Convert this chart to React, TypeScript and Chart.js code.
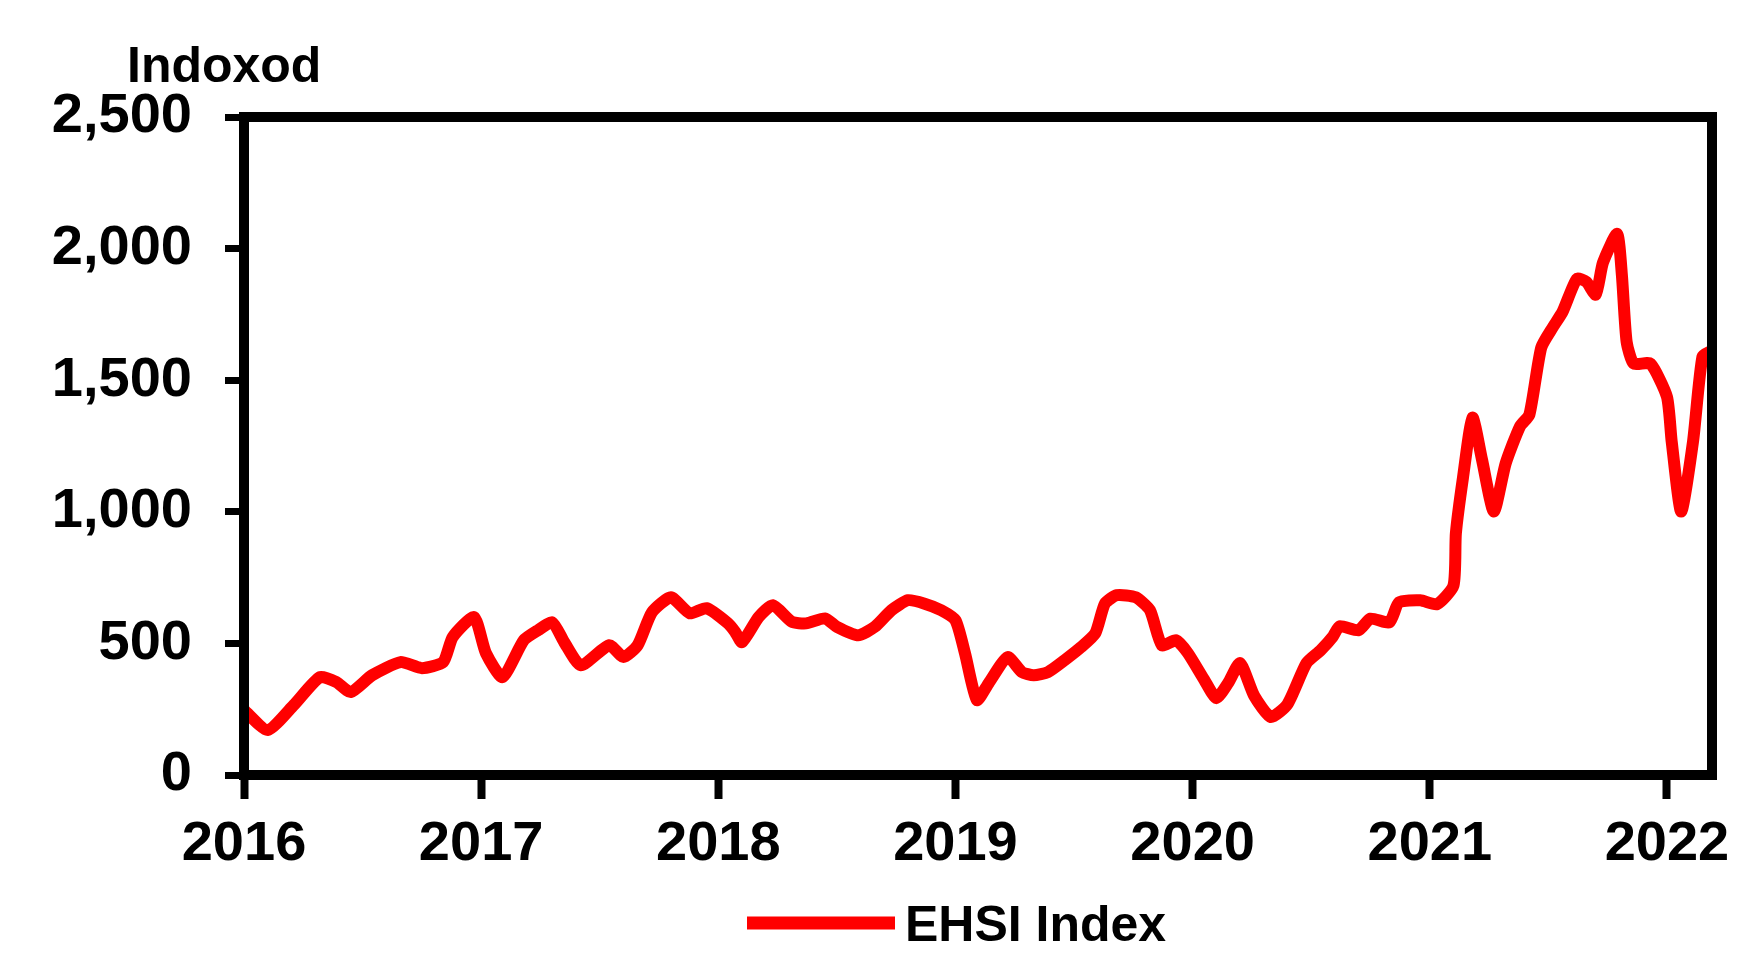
import React, { useEffect, useRef } from "react";
import { Chart, registerables } from "chart.js";

Chart.register(...registerables);

// Decimal-year position of each observation
const dateYears = [
  2016.0, 2016.1, 2016.21, 2016.32, 2016.39, 2016.45, 2016.54, 2016.66, 2016.75, 2016.84,
  2016.88, 2016.97, 2017.02, 2017.09, 2017.18, 2017.24, 2017.3, 2017.35, 2017.42, 2017.54,
  2017.6, 2017.66, 2017.72, 2017.8, 2017.88, 2017.95, 2018.04, 2018.07, 2018.1, 2018.17,
  2018.23, 2018.31, 2018.37, 2018.45, 2018.5, 2018.59, 2018.66, 2018.73, 2018.8, 2018.87,
  2018.94, 2019.0, 2019.04, 2019.09, 2019.14, 2019.22, 2019.28, 2019.33, 2019.39, 2019.46,
  2019.53, 2019.59, 2019.63, 2019.68, 2019.76, 2019.82, 2019.87, 2019.93, 2019.98, 2020.05,
  2020.1, 2020.15, 2020.2, 2020.26, 2020.33, 2020.4, 2020.48, 2020.54, 2020.59, 2020.62,
  2020.7, 2020.75, 2020.83, 2020.87, 2020.96, 2021.03, 2021.1, 2021.11, 2021.14, 2021.18,
  2021.22, 2021.27, 2021.32, 2021.38, 2021.42, 2021.47, 2021.52, 2021.56, 2021.62, 2021.66,
  2021.7, 2021.73, 2021.79, 2021.81, 2021.83, 2021.86, 2021.93, 2022.0, 2022.02, 2022.06,
  2022.11, 2022.15, 2022.19,
];

// EHSI Index values
const ehsiValues = [
  247, 171, 266, 372, 353, 315, 379, 429, 406, 429,
  524, 600, 463, 372, 512, 550, 580, 505, 417, 493,
  448, 493, 618, 675, 614, 634, 577, 545, 505, 600,
  645, 582, 576, 595, 563, 531, 563, 626, 664, 651,
  626, 588, 463, 285, 349, 448, 391, 379, 391, 436,
  486, 539, 651, 683, 675, 626, 493, 512, 463, 360,
  292, 350, 425, 300, 220, 269, 425, 474, 524, 565,
  550, 594, 580, 656, 664, 649, 720, 918, 1130, 1358,
  1199, 1001, 1184, 1324, 1369, 1624, 1703, 1760, 1885, 1874,
  1825, 1946, 2056, 1900, 1646, 1563, 1563, 1437, 1267, 1001,
  1267, 1590, 1612,
];

const seriesLabel = "EHSI Index";
const yAxisTitle = "Indoxod";
const yTicks = [0, 500, 1000, 1500, 2000, 2500];
const xTickYears = [2016, 2017, 2018, 2019, 2020, 2021, 2022];
const xMin = 2016;
const xMax = 2022.19;

const FONT_FAMILY = "'Liberation Sans', Arial, sans-serif";
const LINE_RED = "#ff0000";

const framePlugin = {
  id: "frameAndText",
  afterDatasetsDraw(chart: any) {
    const { ctx, chartArea } = chart;
    ctx.save();
    ctx.strokeStyle = "#000";
    ctx.lineWidth = 10;
    ctx.lineJoin = "miter";
    ctx.strokeRect(
      chartArea.left,
      chartArea.top,
      chartArea.right - chartArea.left,
      chartArea.bottom - chartArea.top
    );
    ctx.restore();
  },
  afterDraw(chart: any) {
    const { ctx } = chart;
    ctx.save();
    ctx.fillStyle = "#000";
    ctx.font = `bold 50px ${FONT_FAMILY}`;
    ctx.textAlign = "left";
    ctx.textBaseline = "alphabetic";
    ctx.fillText(yAxisTitle, 127, 82);

    // legend
    ctx.strokeStyle = LINE_RED;
    ctx.lineWidth = 13;
    ctx.lineCap = "butt";
    ctx.beginPath();
    ctx.moveTo(747, 923);
    ctx.lineTo(895, 923);
    ctx.stroke();
    ctx.fillStyle = "#000";
    ctx.fillText(chart.data.datasets[0].label, 905, 941);
    ctx.restore();
  },
};

export default function App() {
  const canvasRef = useRef<HTMLCanvasElement | null>(null);

  useEffect(() => {
    const canvas = canvasRef.current;
    if (!canvas) return;
    const points = dateYears.map((x, i) => ({ x, y: ehsiValues[i] }));
    const chart = new Chart(canvas, {
      type: "line",
      data: {
        datasets: [
          {
            label: seriesLabel,
            data: points,
            borderColor: LINE_RED,
            backgroundColor: LINE_RED,
            borderWidth: 12,
            pointRadius: 0,
            tension: 0.2,
            borderJoinStyle: "round",
            borderCapStyle: "round",
          },
        ],
      },
      options: {
        responsive: false,
        animation: false,
        devicePixelRatio: 1,
        layout: { padding: { top: 117, right: 43, left: 0, bottom: 0 } },
        plugins: {
          legend: { display: false },
          title: { display: false },
          tooltip: { enabled: false },
        },
        scales: {
          x: {
            type: "linear",
            min: xMin,
            max: xMax,
            border: { display: false },
            grid: {
              display: true,
              drawOnChartArea: false,
              drawTicks: true,
              tickLength: 24,
              tickWidth: 8,
              tickColor: "#000",
              color: "#000",
            },
            afterBuildTicks: (scale: any) => {
              scale.ticks = xTickYears.map((v) => ({ value: v }));
            },
            afterFit: (scale: any) => {
              scale.height = 178;
            },
            ticks: {
              autoSkip: false,
              maxRotation: 0,
              minRotation: 0,
              includeBounds: false,
              stepSize: 1,
              padding: 12,
              color: "#000",
              font: { family: FONT_FAMILY, size: 56, weight: "bold" },
              callback: (v: any) => String(v),
            },
          },
          y: {
            min: 0,
            max: 2500,
            border: { display: false },
            grid: {
              display: true,
              drawOnChartArea: false,
              drawTicks: true,
              tickLength: 19,
              tickWidth: 7,
              tickColor: "#000",
              color: "#000",
            },
            afterBuildTicks: (scale: any) => {
              scale.ticks = yTicks.map((v) => ({ value: v }));
            },
            afterFit: (scale: any) => {
              scale.width = 244;
            },
            ticks: {
              stepSize: 500,
              padding: 33,
              color: "#000",
              font: { family: FONT_FAMILY, size: 56, weight: "bold" },
              callback: (v: any) => Number(v).toLocaleString("en-US"),
            },
          },
        },
      },
      plugins: [framePlugin],
    } as any);
    return () => chart.destroy();
  }, []);

  return (
    <div style={{ position: "absolute", left: 0, top: 0, width: 1755, height: 953, background: "#fff" }}>
      <canvas ref={canvasRef} width={1755} height={953} style={{ display: "block" }} />
    </div>
  );
}
